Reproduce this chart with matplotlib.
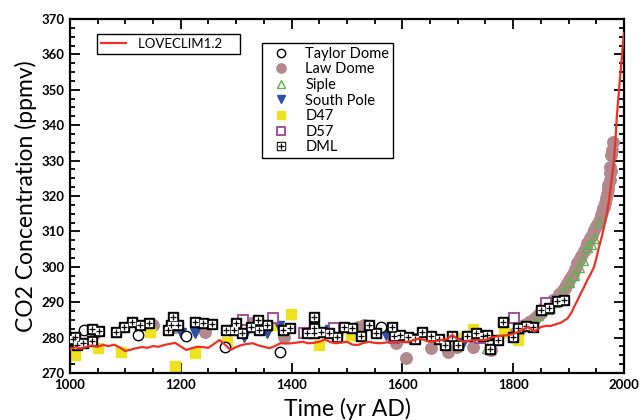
import matplotlib
matplotlib.use("Agg")
import matplotlib.pyplot as plt
from matplotlib.ticker import MultipleLocator

plt.rcParams['font.family'] = ['Lato', 'DejaVu Sans']

# LOVECLIM1.2 model curve
model_years = [1000, 1010, 1020, 1030, 1040, 1050, 1060, 1070, 1080, 1090, 1100, 1110, 1120, 1130,
               1140, 1150, 1160, 1170, 1180, 1190, 1200, 1210, 1220, 1230, 1240, 1250, 1260, 1270,
               1280, 1290, 1300, 1310, 1320, 1330, 1340, 1350, 1360, 1370, 1380, 1390, 1400, 1410,
               1420, 1430, 1440, 1450, 1460, 1470, 1480, 1490, 1500, 1510, 1520, 1530, 1540, 1550,
               1560, 1570, 1580, 1590, 1600, 1610, 1620, 1630, 1640, 1650, 1660, 1670, 1680, 1690,
               1700, 1710, 1720, 1730, 1740, 1750, 1760, 1770, 1780, 1790, 1800, 1810, 1820, 1826,
               1838, 1850, 1860, 1868, 1878, 1886, 1898, 1905, 1910, 1916, 1922, 1928, 1934, 1940,
               1946, 1951, 1955, 1960, 1964, 1969, 1973, 1978, 1982, 1985, 1987, 1990, 1993, 1996,
               1999, 2000]
model_co2 = [276.7, 277.3, 276.9, 277.4, 277.8, 277.4, 277.9, 277.6, 278.0, 277.2, 276.2, 276.6, 277.0, 277.3,
             277.1, 277.6, 277.4, 277.9, 278.2, 278.5, 277.5, 276.5, 277.0, 277.4, 277.3, 277.1, 278.2, 279.3,
             278.0, 276.5, 277.3, 277.9, 278.2, 278.4, 277.8, 277.4, 277.0, 277.6, 278.4, 278.3, 278.4, 278.6,
             278.8, 278.4, 278.5, 278.8, 279.5, 278.7, 278.4, 278.6, 278.8, 278.0, 277.9, 278.5, 278.8, 278.5,
             278.4, 278.6, 278.8, 278.7, 278.8, 278.8, 279.2, 279.8, 279.3, 278.8, 279.0, 279.3, 279.5, 280.7,
             279.5, 278.8, 279.1, 279.3, 279.3, 279.3, 280.0, 280.3, 280.5, 280.7, 281.0, 281.7, 282.4, 283.0,
             281.7, 283.0, 283.3, 283.3, 283.8, 284.2, 285.4, 287.0, 288.7, 290.5, 292.5, 294.3, 296.3, 298.0,
             300.0, 303.0, 305.7, 308.5, 311.3, 315.0, 318.9, 325.0, 330.2, 337.0, 342.4, 348.0, 353.7, 359.0,
             365.0, 366.0]

taylor_years = [1026, 1123, 1210, 1280, 1380, 1561]
taylor_co2 = [282.0, 280.7, 280.5, 277.3, 276.0, 283.0]

law_years = [1045, 1150, 1190, 1244, 1327, 1387, 1520, 1531, 1588, 1606, 1651, 1682, 1699, 1727, 1760,
             1800, 1810, 1820, 1829, 1832, 1837, 1840, 1843, 1848, 1850, 1855, 1858, 1862, 1865, 1868,
             1871, 1875, 1880, 1883, 1886, 1890, 1893, 1896, 1899, 1901, 1904, 1908, 1912, 1916, 1919,
             1923, 1927, 1931, 1934, 1938, 1942, 1946, 1949, 1953, 1956, 1958, 1960, 1962, 1964, 1966,
             1968, 1969, 1971, 1972, 1974, 1975, 1976, 1974, 1977, 1978, 1980]
law_co2 = [281.3, 283.5, 283.0, 281.7, 284.0, 280.3, 283.0, 283.6, 278.4, 274.1, 277.0, 276.0, 277.4, 277.4, 276.5,
           281.0, 282.0, 283.5, 284.5, 284.8, 285.3, 285.5, 286.2, 287.0, 287.0, 288.7, 288.5, 289.0, 289.5, 290.0,
           290.6, 290.5, 291.5, 292.2, 292.5, 293.5, 294.0, 294.8, 295.5, 296.3, 297.2, 298.0, 299.5, 301.0, 302.0,
           303.0, 304.5, 305.7, 306.8, 308.0, 309.0, 310.4, 311.5, 312.5, 313.5, 314.5, 315.5, 316.5, 317.0, 318.0,
           319.4, 320.5, 322.0, 323.0, 324.5, 326.5, 327.0, 328.3, 331.6, 333.0, 335.3]

siple_years = [1753, 1817, 1844, 1862, 1875, 1889, 1901, 1909, 1918, 1926, 1933, 1940, 1946, 1955]
siple_co2 = [277.0, 283.6, 286.4, 288.0, 290.0, 293.0, 295.8, 297.7, 300.0, 301.9, 305.7, 306.5, 308.0, 312.7]

spole_years = [1201, 1225, 1314, 1356, 1378, 1470, 1570, 1710]
spole_co2 = [281.2, 281.2, 280.3, 281.2, 283.3, 282.0, 280.7, 278.4]

d47_years = [1010, 1051, 1093, 1144, 1190, 1225, 1283, 1366, 1399, 1450, 1483, 1507, 1700, 1727, 1784, 1808]
d47_co2 = [275.0, 277.0, 276.0, 281.7, 272.0, 275.5, 278.8, 283.6, 286.7, 277.9, 282.0, 280.7, 280.0, 282.3, 281.7, 279.3]

d57_years = [1313, 1367, 1423, 1477, 1585, 1622, 1740, 1802, 1859]
d57_co2 = [285.0, 285.4, 281.4, 282.6, 280.0, 279.5, 280.0, 285.4, 289.7]

dml_years = [1005, 1010, 1012, 1023, 1040, 1040, 1053, 1083, 1098, 1112, 1127, 1142, 1177, 1186, 1183,
             1196, 1226, 1241, 1256, 1282, 1296, 1299, 1311, 1327, 1340, 1342, 1355, 1384, 1398, 1428,
             1441, 1441, 1441, 1453, 1468, 1482, 1495, 1510, 1525, 1540, 1552, 1581, 1585, 1596, 1610,
             1622, 1635, 1651, 1666, 1677, 1690, 1700, 1717, 1732, 1745, 1753, 1758, 1772, 1782, 1799,
             1808, 1823, 1835, 1850, 1865, 1879, 1892]
dml_co2 = [279.5, 280.3, 277.8, 278.5, 278.9, 282.4, 281.9, 281.7, 283.0, 284.5, 283.6, 284.0, 282.0, 285.9, 283.6,
           283.6, 284.5, 284.0, 283.8, 282.0, 282.1, 284.2, 281.4, 282.9, 285.0, 282.1, 283.6, 282.1, 282.6, 281.4,
           285.9, 282.6, 281.2, 281.7, 281.2, 280.3, 283.0, 282.6, 280.5, 283.6, 281.2, 283.0, 280.5, 280.7, 280.3,
           279.5, 281.7, 280.5, 279.5, 277.9, 280.5, 277.9, 280.5, 281.2, 280.5, 280.7, 276.7, 279.3, 284.5, 280.3,
           282.6, 283.3, 283.0, 287.8, 288.3, 290.4, 290.6]

fig = plt.figure(figsize=(6.41, 4.20), dpi=100)
ax = fig.add_axes([0.109, 0.112, 0.8645, 0.8428])

law_c = '#b3888d'
h_law, = ax.plot(law_years, law_co2, 'o', ms=8.3, color=law_c, mec=law_c, ls='none', zorder=2)
h_d47, = ax.plot(d47_years, d47_co2, 's', ms=6.5, color='#eee21f', mec='#eee21f', ls='none', zorder=2)
h_sp, = ax.plot(spole_years, spole_co2, 'v', ms=7.5, color='#2e4fa3', mec='#2e4fa3', ls='none', zorder=3)
h_td, = ax.plot(taylor_years, taylor_co2, 'o', ms=7.5, mfc='white', mec='black', mew=1.0, ls='none', zorder=3)
h_d57, = ax.plot(d57_years, d57_co2, 's', ms=7, mfc='white', mec='#a2509f', mew=1.4, ls='none', zorder=3)
h_si, = ax.plot(siple_years, siple_co2, '^', ms=7.5, mfc='none', mec='#5ab54a', mew=1.0, ls='none', zorder=4)
h_dml1, = ax.plot(dml_years, dml_co2, 's', ms=7, mfc='black', mec='black', ls='none', zorder=5)
h_dml2, = ax.plot(dml_years, dml_co2, 's', ms=5, mfc='white', mec='white', ls='none', zorder=5)
h_dml3, = ax.plot(dml_years, dml_co2, '+', ms=5, mec='black', mew=0.9, ls='none', zorder=5)
h_model, = ax.plot(model_years, model_co2, '-', color='#ee3124', lw=1.6, zorder=6)

ax.set_xlim(1000, 2000)
ax.set_ylim(270, 370)
ax.xaxis.set_major_locator(MultipleLocator(200))
ax.xaxis.set_minor_locator(MultipleLocator(50))
ax.yaxis.set_major_locator(MultipleLocator(10))
ax.yaxis.set_minor_locator(MultipleLocator(2.5))
ax.tick_params(which='both', direction='in', top=True, right=True, width=1.3)
ax.tick_params(which='major', length=7, labelsize=9.5, pad=4)
ax.tick_params(which='minor', length=3.5)
for lab in ax.get_xticklabels() + ax.get_yticklabels():
    lab.set_fontweight('bold')
for sp in ax.spines.values():
    sp.set_linewidth(1.6)

ax.set_xlabel('Time (yr AD)', fontsize=16.5, labelpad=5)
ax.set_ylabel('CO2 Concentration (ppmv)', fontsize=16.5, labelpad=3)

leg1 = ax.legend([h_model], ['LOVECLIM1.2    '], loc='upper left', bbox_to_anchor=(0.049, 0.958),
                 fontsize=9.5, frameon=True, fancybox=False, edgecolor='black', framealpha=1,
                 borderpad=0.3, handlelength=1.9, handletextpad=0.9, borderaxespad=0)
leg1.get_frame().set_linewidth(1.0)
ax.add_artist(leg1)

leg2 = ax.legend([h_td, h_law, h_si, h_sp, h_d47, h_d57, (h_dml1, h_dml2, h_dml3)],
                 ['Taylor Dome', 'Law Dome', 'Siple', 'South Pole', 'D47', 'D57', 'DML'],
                 loc='upper left', bbox_to_anchor=(0.347, 0.932), fontsize=10.5, frameon=True,
                 fancybox=False, edgecolor='black', framealpha=1, borderpad=0.25,
                 handlelength=2.1, labelspacing=0.11, handletextpad=0.62, borderaxespad=0,
                 markerscale=0.8)
leg2.get_frame().set_linewidth(1.0)

fig.savefig('out.png', dpi=100)
